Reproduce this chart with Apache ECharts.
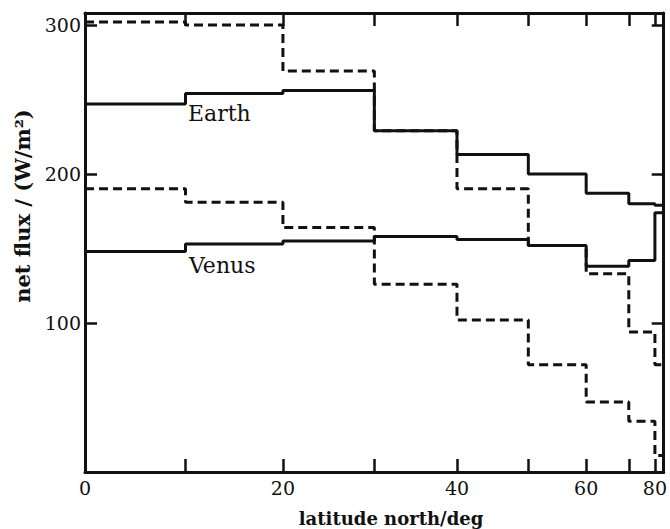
<!DOCTYPE html>
<html>
<head>
<meta charset="utf-8">
<script src="https://cdn.jsdelivr.net/npm/echarts@6/dist/echarts.min.js"></script>
<style>
  html, body { margin: 0; padding: 0; background: #fff; }
  #chart { width: 670px; height: 529px; }
</style>
</head>
<body>
<div id="chart"></div>
<script>
// latitude bands (deg north), one value per band, W/m2
var bandEdges = [0, 10, 20, 30, 40, 50, 60, 70, 80, 90];
var earthSolid = [247, 254, 256, 229, 213, 200, 187, 180, 179];
var earthDashed = [302, 300, 269, 229, 190, 152, 133, 94, 72];
var venusSolid = [148, 153, 155, 158, 156, 152, 138, 142, 174];
var venusDashed = [190, 181, 164, 126, 102, 72, 47, 34, 11];

var xTickLat = [10, 20, 30, 40, 50, 60, 70, 80];
var xLabelLat = [0, 20, 40, 60, 80];
var yTicks = [100, 200, 300];

var FONT = 'DejaVu Serif';
var INK = '#111';

// x axis is area weighted: position goes with sin(latitude)
function sinLat(d) { return Math.sin(d * Math.PI / 180); }
function toLat(v) { return Math.round(Math.asin(Math.min(1, v)) * 180 / Math.PI); }

function steps(vals) {
  var pts = [];
  for (var i = 0; i < vals.length; i++) pts.push([sinLat(bandEdges[i]), vals[i]]);
  pts.push([sinLat(bandEdges[bandEdges.length - 1]), vals[vals.length - 1]]);
  return pts;
}

function stepLine(vals, dashed) {
  return {
    type: 'line',
    step: 'end',
    symbol: 'none',
    silent: true,
    data: steps(vals),
    lineStyle: { color: INK, width: 3, type: dashed ? [9, 5] : 'solid' }
  };
}

function frameAxis(pos, ticks, len) {
  return {
    type: 'value',
    position: pos,
    splitLine: { show: false },
    axisLine: { show: true, onZero: false, lineStyle: { color: INK, width: 3 } },
    axisTick: { show: true, inside: true, length: len, customValues: ticks, lineStyle: { color: INK, width: 2.5 } },
    axisLabel: { show: false }
  };
}

var chart = echarts.init(document.getElementById('chart'), null, { renderer: 'svg' });

var xTicks = xTickLat.map(sinLat);
var xLabels = xLabelLat.map(sinLat);

var xBottom = frameAxis('bottom', xTicks, 13);
xBottom.min = 0;
xBottom.max = 1;
xBottom.axisLabel = {
  customValues: xLabels,
  formatter: function (v) { return String(toLat(v)); },
  margin: 6,
  color: INK,
  fontFamily: FONT,
  fontSize: 19
};
var xTop = frameAxis('top', xTicks, 13);
xTop.min = 0;
xTop.max = 1;

var yLeft = frameAxis('left', yTicks, 12);
yLeft.min = 0;
yLeft.max = 308;
yLeft.axisLabel = {
  customValues: yTicks,
  margin: 4,
  color: INK,
  fontFamily: FONT,
  fontSize: 19
};
var yRight = frameAxis('right', yTicks, 12);
yRight.min = 0;
yRight.max = 308;

var option = {
  backgroundColor: '#ffffff',
  animation: false,
  grid: { left: 85, top: 13, right: -2, bottom: 57 },
  xAxis: [xBottom, xTop],
  yAxis: [yLeft, yRight],
  series: [
    stepLine(earthDashed, true),
    stepLine(venusDashed, true),
    stepLine(earthSolid, false),
    stepLine(venusSolid, false)
  ],
  graphic: [
    { type: 'text', x: 188, y: 113, style: { text: 'Earth', fill: INK, font: '22px "DejaVu Serif"', verticalAlign: 'middle' } },
    { type: 'text', x: 189, y: 265, style: { text: 'Venus', fill: INK, font: '22px "DejaVu Serif"', verticalAlign: 'middle' } },
    { type: 'text', x: 391, y: 518, style: { text: 'latitude north/deg', fill: INK, font: 'bold 18px "DejaVu Serif"', align: 'center', verticalAlign: 'middle' } },
    { type: 'text', x: 22, y: 206, rotation: Math.PI / 2, style: { text: 'net flux / (W/m\u00b2)', fill: INK, font: 'bold 21px "DejaVu Serif"', align: 'center', verticalAlign: 'middle' } }
  ]
};

chart.setOption(option);
</script>
</body>
</html>
